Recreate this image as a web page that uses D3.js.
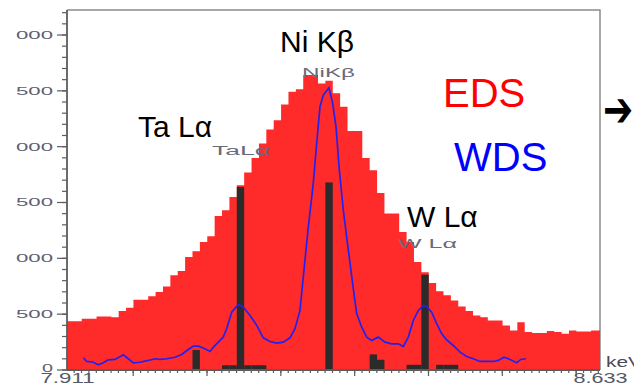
<!DOCTYPE html>
<html>
<head>
<meta charset="utf-8">
<script src="https://cdn.jsdelivr.net/npm/d3@7"></script>
<style>
  html, body { margin: 0; padding: 0; background: #fff; }
  svg { display: block; }
  text { font-family: "Liberation Sans", Arial, sans-serif; }
</style>
</head>
<body>
<svg id="chart" width="634" height="388"></svg>
<script>
// ---------- DATA ----------
const xDomain = [7.911, 8.633];          // keV
const binWidth = 0.01;                   // keV per EDS channel
// EDS counts, one per 10 eV channel starting at 7.911 keV
const edsCounts = [
  433, 433, 455, 455, 475, 475, 469, 523, 553, 625,
  625, 655, 693, 744, 843, 882, 1007, 1058, 1142, 1193,
  1375, 1426, 1545, 1650, 1764, 1895, 2024, 2150, 2233, 2374,
  2487, 2509, 2637, 2637, 2562, 2586, 2473, 2353, 2135, 2135,
  1895, 1785, 1581, 1396, 1396, 1231, 1142, 962, 870, 774,
  700, 664, 619, 565, 523, 484, 469, 439, 439, 395,
  350, 424, 335, 326, 326, 344, 335, 320, 350, 341,
  341, 350, 350
];
// dark bars (channel start energy, counts)
const markerEnergy = [8.081, 8.121, 8.131, 8.141, 8.151, 8.161, 8.171, 8.261,
                      8.321, 8.331, 8.371, 8.381, 8.391, 8.411, 8.421, 8.431];
const markerCounts = [175, 38, 38, 1635, 38, 38, 38, 1675,
                      135, 87, 42, 42, 849, 42, 42, 42];
// WDS trace
const wdsEnergy = [7.9331, 7.9377, 7.9466, 7.9534, 7.9602, 7.9669, 7.9760, 7.9873, 7.9940, 8.0008,
  8.0099, 8.0211, 8.0302, 8.0370, 8.0461, 8.0573, 8.0664, 8.0753, 8.0821, 8.0889,
  8.0979, 8.1047, 8.1092, 8.1160, 8.1227, 8.1273, 8.1341, 8.1430, 8.1498, 8.1589,
  8.1680, 8.1769, 8.1860, 8.1951, 8.2040, 8.2131, 8.2199, 8.2266, 8.2311, 8.2379,
  8.2446, 8.2492, 8.2537, 8.2582, 8.2659, 8.2709, 8.2754, 8.2799, 8.2853, 8.2921,
  8.2988, 8.3034, 8.3102, 8.3170, 8.3237, 8.3327, 8.3418, 8.3508, 8.3598, 8.3666,
  8.3733, 8.3801, 8.3869, 8.3936, 8.3982, 8.4050, 8.4118, 8.4186, 8.4253, 8.4343,
  8.4434, 8.4524, 8.4614, 8.4704, 8.4795, 8.4885, 8.4952, 8.5030, 8.5111, 8.5202,
  8.5256, 8.5328];
const wdsCounts = [105, 72, 65, 42, 60, 87, 90, 132, 96, 60,
  65, 81, 96, 90, 96, 110, 135, 179, 209, 209,
  186, 161, 200, 245, 290, 365, 514, 583, 559, 484,
  395, 284, 251, 236, 245, 284, 368, 529, 828, 1276,
  1666, 2024, 2353, 2458, 2523, 2383, 2173, 1785, 1426, 1067,
  726, 500, 379, 290, 260, 290, 245, 230, 230, 206,
  290, 439, 529, 574, 565, 514, 410, 320, 266, 215,
  155, 117, 96, 72, 72, 72, 81, 110, 90, 60,
  90, 96];
// axis labels
const yTickValues = [0, 500, 1000, 1500, 2000, 2500, 3000];
const yTickLabels = ["0", "500", "000", "500", "000", "500", "000"];
const xEndLabels = ["7.911", "8.633"];
const xUnit = "keV";
// peak annotations
const peakNames = ["Ta L\u03b1", "Ni K\u03b2", "W L\u03b1"];
const peakSmall = ["TaL\u03b1", "NiK\u03b2", "W L\u03b1"];
const seriesNames = ["EDS", "WDS"];

// ---------- LAYOUT ----------
const svg = d3.select("#chart");
const L = 67, R = 600, T = 10, B = 370;
const x = d3.scaleLinear().domain(xDomain).range([L, R]);
const y = d3.scaleLinear().domain([0, 3000]).range([369.5, 34.5]);
const axisColor = "#5c5c5c";

// frame (top + right)
svg.append("path")
  .attr("d", `M${L},${T}H${R}V${B}`)
  .attr("fill", "none").attr("stroke", "#8a8a8a").attr("stroke-width", 1.5);

// EDS stepped histogram
const edsPts = edsCounts.map((c, i) => [Math.min(xDomain[0] + i * binWidth, xDomain[1]), c]);
edsPts.push([xDomain[1], edsCounts[edsCounts.length - 1]]);
const area = d3.area()
  .x(d => x(d[0])).y0(y(0)).y1(d => y(d[1]))
  .curve(d3.curveStepAfter);
svg.append("path").datum(edsPts).attr("d", area).attr("fill", "#ff2a2a");

// dark marker bars
svg.append("g").selectAll("rect").data(markerEnergy).join("rect")
  .attr("x", d => x(d))
  .attr("width", x(xDomain[0] + binWidth) - x(xDomain[0]))
  .attr("y", (d, i) => y(markerCounts[i]))
  .attr("height", (d, i) => y(0) - y(markerCounts[i]))
  .attr("fill", "#2b2b2b");

// WDS line
const line = d3.line().x((d, i) => x(wdsEnergy[i])).y(d => y(d));
svg.append("path").datum(wdsCounts).attr("d", line)
  .attr("fill", "none").attr("stroke", "#2222ee").attr("stroke-width", 1.7);

// ---------- AXES ----------
// Y minor
const yMinor = d3.axisLeft(y).tickValues(d3.range(0, 3201, 100)).tickSize(5).tickFormat("");
const gyMin = svg.append("g").attr("transform", `translate(${L},0)`).call(yMinor);
gyMin.select(".domain").remove();
// Y major
const yMajor = d3.axisLeft(y).tickValues(yTickValues).tickSize(10)
  .tickFormat((d, i) => yTickLabels[i]);
const gy = svg.append("g").attr("transform", `translate(${L},0)`).call(yMajor);
gy.select(".domain").remove();
[gyMin, gy].forEach(g => g.selectAll("line").attr("stroke", axisColor).attr("stroke-width", 1.2));
gy.selectAll("text")
  .attr("x", -14).attr("dy", (d, i) => i === 0 ? "0.2em" : "0.36em")
  .attr("font-size", 11).attr("fill", "#5e6070")
  .attr("textLength", (d, i) => yTickLabels[i].length === 1 ? 11 : 37)
  .attr("lengthAdjust", "spacingAndGlyphs")
  .style("font-family", "'Liberation Sans', Arial, sans-serif");
// y axis line
svg.append("line").attr("x1", L).attr("x2", L).attr("y1", T).attr("y2", B)
  .attr("stroke", axisColor).attr("stroke-width", 1.8);

// X minor
const minorTicks = d3.range(792, 864).map(v => v / 100);
const xMinor = d3.axisBottom(x).tickValues(minorTicks).tickSize(3).tickFormat("");
const gxMin = svg.append("g").attr("transform", `translate(0,${B})`).call(xMinor);
gxMin.select(".domain").remove();
const xMajor = d3.axisBottom(x).tickValues(d3.range(80, 87).map(v => v / 10)).tickSize(6).tickFormat("");
const gxMaj = svg.append("g").attr("transform", `translate(0,${B})`).call(xMajor);
gxMaj.select(".domain").remove();
[gxMin, gxMaj].forEach(g => g.selectAll("line").attr("stroke", axisColor).attr("stroke-width", 1.2));
// x end labels
const xEnds = d3.axisBottom(x).tickValues(xDomain).tickSize(0).tickFormat((d, i) => xEndLabels[i]);
const gxe = svg.append("g").attr("transform", `translate(0,${B})`).call(xEnds);
gxe.select(".domain").remove();
gxe.selectAll("text").attr("y", 3).attr("dy", "0.71em")
  .attr("font-size", 14).attr("fill", "#555a66")
  .attr("textLength", 54).attr("lengthAdjust", "spacingAndGlyphs")
  .style("font-family", "'Liberation Sans', Arial, sans-serif");
svg.append("line").attr("x1", L).attr("x2", R).attr("y1", B).attr("y2", B)
  .attr("stroke", axisColor).attr("stroke-width", 1.8);
svg.append("text").attr("x", 606).attr("y", 367).attr("font-size", 15)
  .attr("fill", "#4a4a55").attr("textLength", 36).attr("lengthAdjust", "spacingAndGlyphs")
  .text(xUnit);

// ---------- ANNOTATIONS ----------
const bigPos = [[138, 137], [280, 52], [407, 227]];
peakNames.forEach((t, i) => {
  svg.append("text").attr("x", bigPos[i][0]).attr("y", bigPos[i][1])
    .attr("font-size", 30).attr("fill", "#000").text(t);
});
const smallPos = [[212, 155, 58], [302, 77, 53], [398, 248, 59]];
peakSmall.forEach((t, i) => {
  svg.append("text").attr("x", smallPos[i][0]).attr("y", smallPos[i][1])
    .attr("font-size", 12).attr("fill", "#6a6a78")
    .attr("textLength", smallPos[i][2]).attr("lengthAdjust", "spacingAndGlyphs")
    .text(t);
});
svg.append("text").attr("x", 443).attr("y", 107).attr("font-size", 40)
  .attr("fill", "#ff0000").text(seriesNames[0]);
svg.append("text").attr("x", 454).attr("y", 171).attr("font-size", 40)
  .attr("fill", "#0000ff").text(seriesNames[1]);
svg.append("text").attr("transform", "translate(603,126) scale(1,1.35)")
  .attr("font-size", 36).attr("font-weight", "bold").attr("fill", "#000")
  .style("font-family", "'DejaVu Sans', sans-serif").text("\u2794");
</script>
</body>
</html>
